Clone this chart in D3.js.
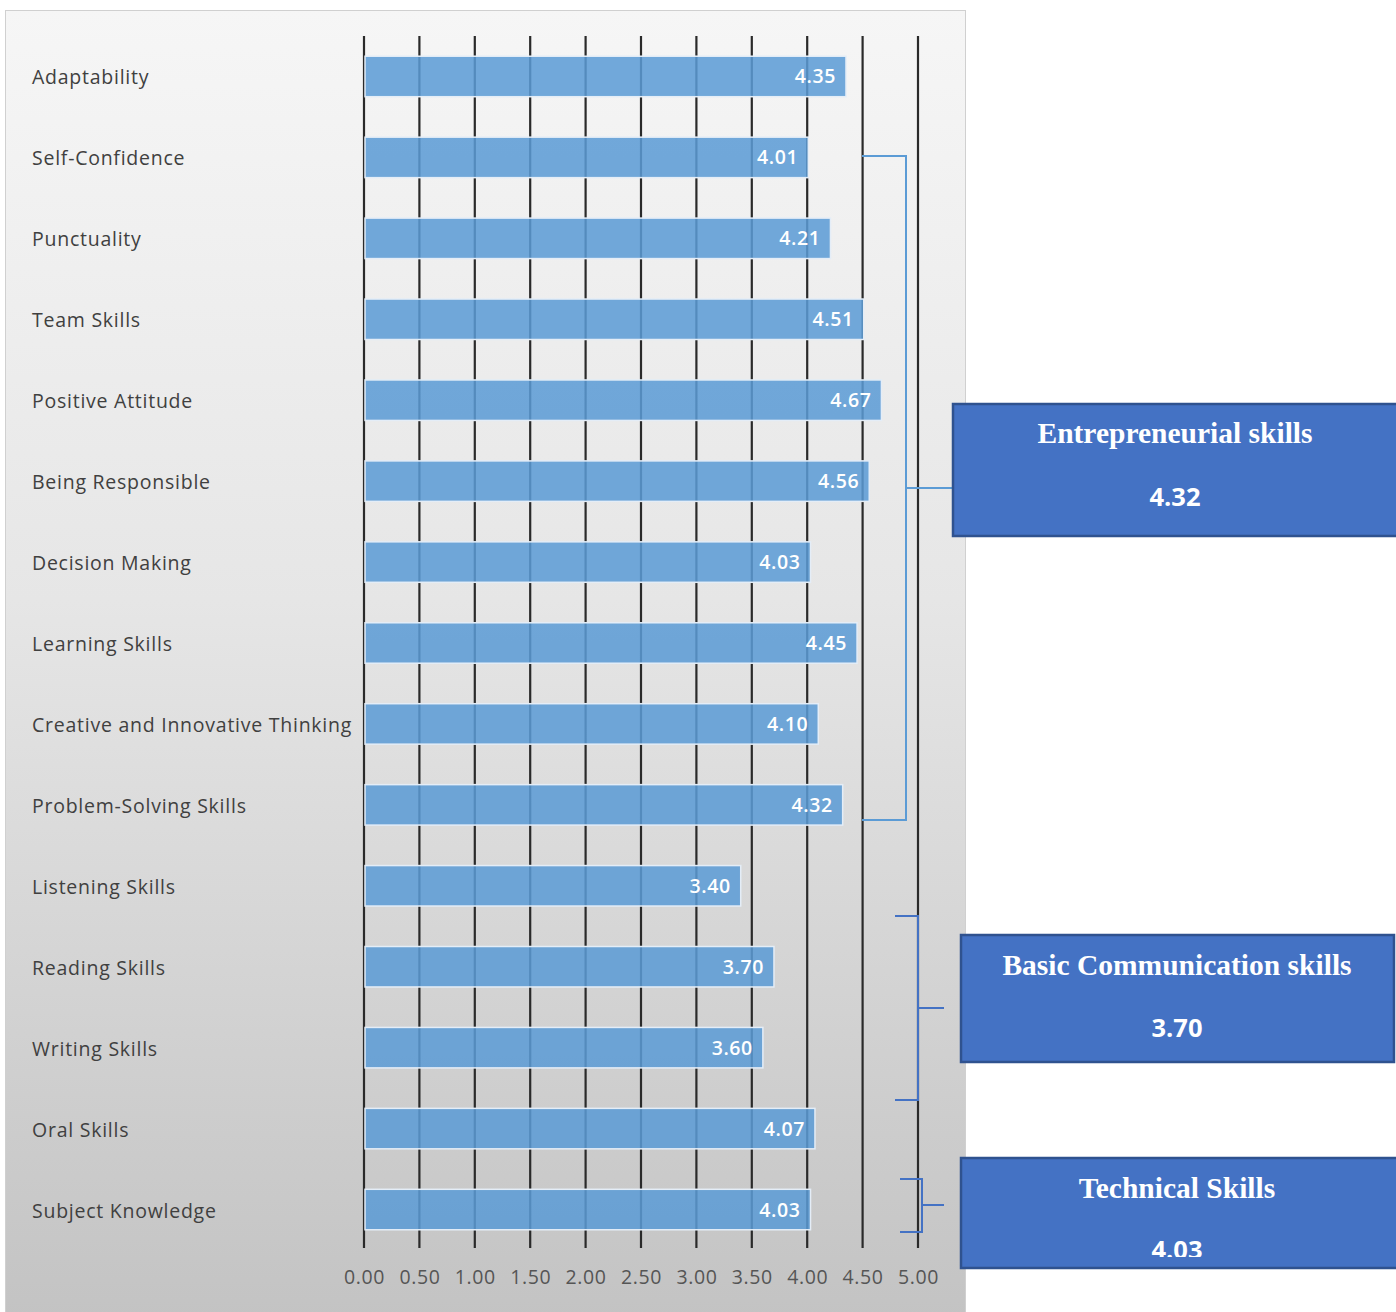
<!DOCTYPE html>
<html><head><meta charset="utf-8">
<script src="https://cdn.jsdelivr.net/npm/d3@7"></script>
<style>html,body{margin:0;padding:0;background:#fff;}svg{display:block;}</style>
</head><body>
<script>
const categories = ["Adaptability","Self-Confidence","Punctuality","Team Skills","Positive Attitude","Being Responsible","Decision Making","Learning Skills","Creative and Innovative Thinking","Problem-Solving Skills","Listening Skills","Reading Skills","Writing Skills","Oral Skills","Subject Knowledge"];
const values = [4.35,4.01,4.21,4.51,4.67,4.56,4.03,4.45,4.10,4.32,3.40,3.70,3.60,4.07,4.03];
const tickValues = [0,0.5,1,1.5,2,2.5,3,3.5,4,4.5,5];
const groupNames = ["Entrepreneurial skills","Basic Communication skills","Technical Skills"];
const groupValues = ["4.32","3.70","4.03"];

const W = 1396, H = 1312;
const svg = d3.select("body").append("svg").attr("width", W).attr("height", H);
const defs = svg.append("defs");
const grad = defs.append("linearGradient").attr("id","bg").attr("x1",0).attr("y1",0).attr("x2",0).attr("y2",1);
grad.append("stop").attr("offset","0%").attr("stop-color","#f6f6f6");
grad.append("stop").attr("offset","45%").attr("stop-color","#e6e6e6");
grad.append("stop").attr("offset","100%").attr("stop-color","#c3c3c3");

svg.append("rect").attr("x",5.5).attr("y",10.5).attr("width",960).attr("height",1310)
  .attr("fill","url(#bg)").attr("stroke","#d0d0d0").attr("stroke-width",1);

const x = d3.scaleLinear().domain([0,5]).range([364,918]);
const y = d3.scaleBand().domain(categories).range([36,1250]).paddingInner(0.5).paddingOuter(0.25);

// grid lines
svg.append("g").selectAll("line").data(tickValues).join("line")
  .attr("x1", d=>x(d)).attr("x2", d=>x(d)).attr("y1",36).attr("y2",1248)
  .attr("stroke","#2a2a2a").attr("stroke-width",2.2);

// axis labels
const axis = d3.axisBottom(x).tickValues(tickValues).tickFormat(d3.format(".2f")).tickSize(0).tickPadding(0);
const ag = svg.append("g").attr("transform","translate(0,1270)").call(axis);
ag.select(".domain").remove();
ag.selectAll("text").attr("font-family","'Open Sans', sans-serif").attr("font-size",19.5)
  .attr("letter-spacing","0.6px").attr("fill","#555").attr("dy","0.71em");

// bars
svg.append("g").selectAll("rect").data(values).join("rect")
  .attr("x", x(0)+1).attr("y",(d,i)=>y(categories[i]))
  .attr("width", d=>x(d)-x(0)-1).attr("height", y.bandwidth())
  .attr("fill","#5b9bd5").attr("fill-opacity",0.86)
  .attr("stroke","#e4edf7").attr("stroke-width",1.5);

// value labels
svg.append("g").selectAll("text").data(values).join("text")
  .attr("x", d=>x(d)-10).attr("y",(d,i)=>y(categories[i])+y.bandwidth()/2)
  .attr("dy","0.36em").attr("text-anchor","end")
  .attr("font-family","'Open Sans', sans-serif").attr("font-size",19.5).attr("font-weight",600)
  .attr("letter-spacing","0.6px")
  .attr("fill","#ffffff").text(d=>d.toFixed(2));

// category labels
svg.append("g").selectAll("text").data(categories).join("text")
  .attr("x",32).attr("y",d=>y(d)+y.bandwidth()/2+1).attr("dy","0.36em")
  .attr("font-family","'Open Sans', sans-serif").attr("font-size",19.5)
  .attr("letter-spacing","0.75px")
  .attr("fill","#404040").text(d=>d);

// brackets
const br = svg.append("g").attr("fill","none");
br.append("path").attr("d","M862,156H906V820H862M906,488H953").attr("stroke","#5b9bd5").attr("stroke-width",2);
br.append("path").attr("d","M895,916H918V1100H895M918,1008H944").attr("stroke","#4472c4").attr("stroke-width",2);
br.append("path").attr("d","M900,1179H922V1232H900M922,1205H944").attr("stroke","#4472c4").attr("stroke-width",2);

// boxes
const boxes = [
  {x:953,y:404,w:450,h:132,t1:433,t2:497,clipB:536},
  {x:961,y:935,w:433,h:127,t1:965,t2:1028,clipB:1062},
  {x:961,y:1158,w:440,h:110,t1:1188,t2:1250,clipB:1257}
];
boxes.forEach((b,i)=>{
  const cid = "clip"+i;
  defs.append("clipPath").attr("id",cid).append("rect").attr("x",b.x).attr("y",b.y).attr("width",b.w).attr("height",b.clipB-b.y);
  const g = svg.append("g");
  g.append("rect").attr("x",b.x).attr("y",b.y).attr("width",b.w).attr("height",b.h)
    .attr("fill","#4472c4").attr("stroke","#2f528f").attr("stroke-width",2.5);
  const cx = i===0 ? 1175 : 1177;
  const tg = g.append("g").attr("clip-path","url(#"+cid+")");
  tg.append("text").attr("x",cx).attr("y",b.t1).attr("dy","0.35em").attr("text-anchor","middle")
    .attr("font-family","'Liberation Serif','Times New Roman',serif").attr("font-weight","bold").attr("font-size",29.5)
    .attr("fill","#fff").text(groupNames[i]);
  tg.append("text").attr("x",cx).attr("y",b.t2).attr("dy","0.36em").attr("text-anchor","middle")
    .attr("font-family","'Open Sans', sans-serif").attr("font-weight","bold").attr("font-size",25.5)
    .attr("fill","#fff").text(groupValues[i]);
});
</script>
</body></html>
